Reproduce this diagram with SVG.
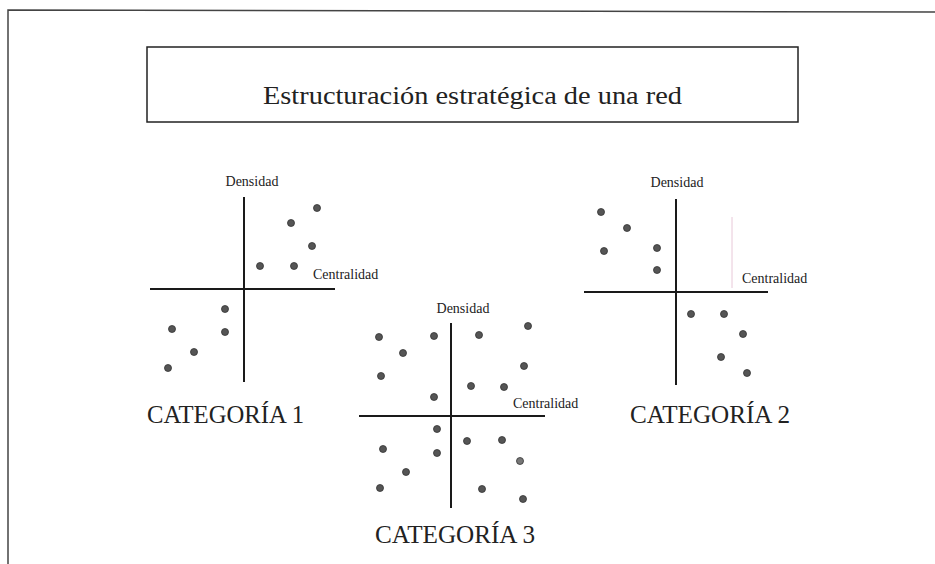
<svg xmlns="http://www.w3.org/2000/svg" width="935" height="564" viewBox="0 0 935 564">
<style>
.frame{fill:none;stroke:#444;stroke-width:1.5}
.box{fill:#fff;stroke:#222;stroke-width:1.5}
.axis{stroke:#1a1a1a;stroke-width:2;fill:none}
.dot{fill:#555;stroke:#333;stroke-width:0.8}
.lbl{font-family:"Liberation Serif","DejaVu Serif",serif;font-size:14px;fill:#222}
.cat{font-family:"Liberation Serif","DejaVu Serif",serif;font-size:26px;fill:#222}
.title{font-family:"Liberation Serif","DejaVu Serif",serif;font-size:26px;fill:#222}
</style>
<rect width="935" height="564" fill="#fff"/>
<g id="frame">
<path class="frame" d="M8,564 V10 L935,12"/>
</g>
<g id="title">
<rect class="box" x="147" y="47" width="651" height="75"/>
<text class="title" x="263" y="104" textLength="419" lengthAdjust="spacingAndGlyphs">Estructuración estratégica de una red</text>
</g>
<g id="connectors">
<line class="axis" x1="244" y1="197" x2="244" y2="382"/>
<line class="axis" x1="150" y1="289" x2="335" y2="289"/>
<line class="axis" x1="451" y1="323" x2="451" y2="508"/>
<line class="axis" x1="359" y1="416" x2="545" y2="416"/>
<line class="axis" x1="676" y1="199" x2="676" y2="385"/>
<line class="axis" x1="584" y1="292" x2="768" y2="292"/>
<line x1="732" y1="217" x2="732" y2="288" stroke="#e8c8d8" stroke-width="1"/>
</g>
<g id="cat1">
<text class="lbl" x="252" y="186" text-anchor="middle">Densidad</text>
<text class="lbl" x="313" y="279">Centralidad</text>
<circle class="dot" cx="317" cy="208" r="3.5"/>
<circle class="dot" cx="291" cy="223" r="3.5"/>
<circle class="dot" cx="312" cy="246" r="3.5"/>
<circle class="dot" cx="260" cy="266" r="3.5"/>
<circle class="dot" cx="294" cy="266" r="3.5"/>
<circle class="dot" cx="225" cy="309" r="3.5"/>
<circle class="dot" cx="225" cy="332" r="3.5"/>
<circle class="dot" cx="172" cy="329" r="3.5"/>
<circle class="dot" cx="194" cy="352" r="3.5"/>
<circle class="dot" cx="168" cy="368" r="3.5"/>
<text class="cat" x="147" y="423" textLength="157" lengthAdjust="spacingAndGlyphs">CATEGORÍA 1</text>
</g>
<g id="cat3">
<text class="lbl" x="463" y="313" text-anchor="middle">Densidad</text>
<text class="lbl" x="513" y="408">Centralidad</text>
<circle class="dot" cx="379" cy="337" r="3.5"/>
<circle class="dot" cx="434" cy="336" r="3.5"/>
<circle class="dot" cx="479" cy="335" r="3.5"/>
<circle class="dot" cx="528" cy="326" r="3.5"/>
<circle class="dot" cx="403" cy="353" r="3.5"/>
<circle class="dot" cx="381" cy="376" r="3.5"/>
<circle class="dot" cx="524" cy="366" r="3.5"/>
<circle class="dot" cx="471" cy="386" r="3.5"/>
<circle class="dot" cx="504" cy="387" r="3.5"/>
<circle class="dot" cx="434" cy="397" r="3.5"/>
<circle class="dot" cx="437" cy="429" r="3.5"/>
<circle class="dot" cx="467" cy="441" r="3.5"/>
<circle class="dot" cx="502" cy="440" r="3.5"/>
<circle class="dot" cx="383" cy="449" r="3.5"/>
<circle class="dot" cx="437" cy="453" r="3.5"/>
<circle class="dot" cx="520" cy="461" r="3.5" style="fill:#777"/>
<circle class="dot" cx="406" cy="472" r="3.5"/>
<circle class="dot" cx="380" cy="488" r="3.5"/>
<circle class="dot" cx="482" cy="489" r="3.5"/>
<circle class="dot" cx="523" cy="499" r="3.5"/>
<text class="cat" x="455" y="543" text-anchor="middle" textLength="160" lengthAdjust="spacingAndGlyphs">CATEGORÍA 3</text>
</g>
<g id="cat2">
<text class="lbl" x="677" y="187" text-anchor="middle">Densidad</text>
<text class="lbl" x="742" y="283">Centralidad</text>
<circle class="dot" cx="601" cy="212" r="3.5"/>
<circle class="dot" cx="627" cy="228" r="3.5"/>
<circle class="dot" cx="604" cy="251" r="3.5"/>
<circle class="dot" cx="657" cy="248" r="3.5"/>
<circle class="dot" cx="657" cy="270" r="3.5"/>
<circle class="dot" cx="691" cy="314" r="3.5"/>
<circle class="dot" cx="724" cy="314" r="3.5"/>
<circle class="dot" cx="743" cy="334" r="3.5"/>
<circle class="dot" cx="721" cy="357" r="3.5"/>
<circle class="dot" cx="747" cy="373" r="3.5"/>
<text class="cat" x="630" y="423" textLength="160" lengthAdjust="spacingAndGlyphs">CATEGORÍA 2</text>
</g>
</svg>
